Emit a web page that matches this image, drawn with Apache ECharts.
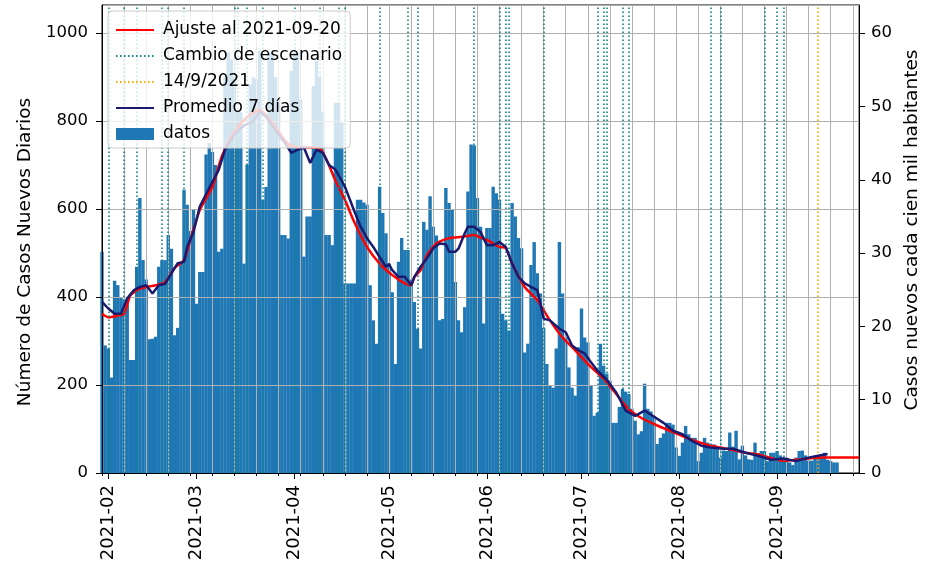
<!DOCTYPE html>
<html><head><meta charset="utf-8">
<script src="https://cdn.jsdelivr.net/npm/echarts@6/dist/echarts.min.js"></script>
<style>html,body{margin:0;padding:0;background:#fff;overflow:hidden}#c{width:930px;height:564px}</style>
</head><body><div id="c"></div><script>
// ---- data ----
const startDate = '2021-01-30';   // first category (left edge of the plot)
const nDays = 241;                // categories up to 2021-09-27
const casosDiarios = [
 503,290,283,217,437,427,400,395,390,257,
 257,469,625,484,440,304,305,310,469,484,
 484,541,510,313,330,476,644,610,550,600,
 385,457,457,724,750,730,700,503,510,900,
 956,940,900,820,820,476,701,883,900,895,
 960,621,650,956,956,900,850,541,541,533,
 914,956,956,850,492,583,583,880,937,900,
 820,541,541,518,842,842,797,431,431,431,
 431,621,621,615,610,427,347,294,651,591,
 545,476,411,248,480,534,507,507,440,389,
 328,283,571,553,629,560,540,347,350,648,
 614,600,434,347,320,377,640,747,745,625,
 560,340,557,557,651,636,621,362,347,324,
 614,583,534,511,274,294,473,525,454,408,
 330,248,200,194,283,525,408,308,240,194,
 176,286,374,308,297,200,130,137,294,244,
 226,210,114,114,150,191,185,180,146,119,
 88,95,203,146,140,130,66,80,90,114,
 114,110,58,39,69,107,88,80,80,27,
 46,80,69,60,65,60,35,51,50,92,
 60,96,31,62,40,31,30,69,45,50,
 50,27,46,46,50,40,35,35,24,18,
 35,50,51,40,28,28,39,39,37,46,
 30,27,24,24
];
// 7-day average (day offset from startDate, value)
const promedioDias = [0,2,4,6,8,10,12,14,16,18,20,22,24,26,27,29,31,34,37,39,42,45,48,50,52,55,58,60,62,64,66,68,70,72,74,77,80,82,84,86,88,90,91,92,94,96,98,99,101,103,105,107,109,110,112,113,115,116,118,120,122,124,126,128,130,132,134,136,138,140,142,145,147,149,151,153,155,157,160,163,166,169,172,175,178,181,184,187,190,193,197,200,204,208,212,216,220,224,227,230];
const promedioVals = [389,374,362,362,397,415,423,427,408,427,430,454,477,480,514,548,606,648,689,735,770,790,800,822,810,780,750,728,735,740,705,735,728,700,690,651,595,560,534,514,491,469,475,461,446,446,427,446,469,488,511,522,520,503,503,510,545,560,560,548,518,518,525,514,476,446,431,423,416,351,347,328,320,290,279,272,252,233,212,183,142,130,142,128,114,96,88,73,62,58,55,55,46,39,30,33,27,35,39,43];
// fitted curve
const ajusteDias = [0,2,5,7,9,12,17,20,23,26,28,31,35,38,41,44,47,50,53,56,59,62,66,69,71,74,77,80,84,88,92,96,98,99,101,103,106,110,114,118,120,122,126,128,130,134,138,142,146,150,154,159,163,167,171,176,180,184,188,192,196,200,204,208,212,216,220,224,228,234,240];
const ajusteVals = [362,354,358,362,404,419,427,434,466,484,530,598,651,720,765,795,815,825,805,775,748,740,740,738,715,665,621,570,514,476,450,431,427,445,461,495,522,534,537,541,535,530,514,511,476,423,393,347,308,279,248,214,180,145,125,108,96,84,73,64,58,52,46,42,34,28,30,33,35,35,35];
const cambiosEscenario = ['2021-02-01','2021-02-06','2021-02-10','2021-02-18','2021-02-20','2021-02-25','2021-03-13','2021-03-14','2021-03-17','2021-03-22','2021-04-01','2021-04-09','2021-04-15','2021-04-17','2021-04-28','2021-05-07','2021-05-10','2021-05-28','2021-06-05','2021-06-07','2021-06-08','2021-06-19','2021-07-06','2021-07-08','2021-07-09','2021-07-14','2021-07-16','2021-08-11','2021-08-14','2021-08-28','2021-09-01','2021-09-03'];
const fechaReferencia = ['2021-09-14'];
const leftMax = 1064, leftInterval = 200;
const per100k = 0.06;             // right axis = left axis * factor
const rightInterval = 10;

// ---- build ----
const dates = [];
{ const d0 = new Date(startDate + 'T00:00:00Z');
  for (let i = 0; i < nDays; i++) { const d = new Date(d0.getTime() + i * 86400000); dates.push(d.toISOString().slice(0, 10)); } }
const FONT = 'DejaVu Sans';
const TEAL = '#0b8585', ORANGE = '#ffa500';
const DOT = [1.5, 2.5];
const isMonth = (i, v) => v.slice(8) === '01';
const isWeek = (i) => i % 7 === 0;

const chart = echarts.init(document.getElementById('c'), null, {renderer: 'canvas'});
chart.setOption({
  animation: false,
  textStyle: {fontFamily: FONT},
  grid: {left: 102, right: 63, top: 5, bottom: 91, show: true, borderColor: '#000', borderWidth: 1, backgroundColor: 'transparent'},
  legend: {
    z: 20, zlevel: 0,
    orient: 'vertical', left: 108, top: 11, padding: [9, 8, 4, 7], itemGap: 6,
    itemWidth: 38, itemHeight: 12,
    backgroundColor: 'rgba(255,255,255,0.8)', borderColor: '#cccccc', borderWidth: 1, borderRadius: 4,
    itemStyle: {opacity: 0},
    textStyle: {fontSize: 17, color: '#000', fontFamily: FONT, lineHeight: 20, padding: [0, 0, 0, 4]},
    data: [
      {name: 'Ajuste al 2021-09-20'},
      {name: 'Cambio de escenario'},
      {name: '14/9/2021'},
      {name: 'Promedio 7 días'},
      {name: 'datos', icon: 'rect', itemStyle: {opacity: 1}}
    ]
  },
  xAxis: [
    {type: 'category', data: dates, boundaryGap: false, position: 'bottom', z: 2,
     axisLine: {show: true, lineStyle: {color: '#000', width: 1}},
     axisTick: {show: true, interval: isMonth, length: 6, lineStyle: {color: '#000'}},
     axisLabel: {show: true, interval: isMonth, rotate: 90, margin: 12, fontSize: 18, color: '#000', fontFamily: FONT,
                 formatter: v => v.slice(0, 7)},
     splitLine: {show: false}},
    {type: 'category', data: dates, boundaryGap: false, position: 'bottom', z: 2,
     axisLine: {show: false},
     axisTick: {show: true, interval: isWeek, length: 3, lineStyle: {color: '#000'}},
     axisLabel: {show: false},
     splitLine: {show: true, interval: isWeek, lineStyle: {color: '#b0b0b0', width: 1}}}
  ],
  yAxis: [
    {type: 'value', min: 0, max: leftMax, interval: leftInterval, position: 'left', z: 2,
     name: 'Número de Casos Nuevos Diarios', nameLocation: 'middle', nameGap: 55,
     nameTextStyle: {fontSize: 18.5, color: '#000', fontFamily: FONT, padding: [0, 26, 0, 0]},
     axisLine: {show: true, lineStyle: {color: '#000'}},
     axisTick: {show: true, length: 6, lineStyle: {color: '#000'}},
     axisLabel: {fontSize: 16.5, color: '#000', margin: 14, showMaxLabel: false, fontFamily: FONT,
                 formatter: v => String(v)},
     splitLine: {show: true, lineStyle: {color: '#b0b0b0', width: 1}}},
    {type: 'value', min: 0, max: leftMax * per100k, interval: rightInterval, position: 'right', z: 2,
     name: 'Casos nuevos cada cien mil habitantes', nameLocation: 'middle', nameGap: 41,
     nameTextStyle: {fontSize: 18.5, color: '#000', fontFamily: FONT, padding: [0, 0, 0, 18]},
     axisLine: {show: true, lineStyle: {color: '#000'}},
     axisTick: {show: true, length: 6, lineStyle: {color: '#000'}},
     axisLabel: {fontSize: 16.5, color: '#000', margin: 12, showMaxLabel: false, fontFamily: FONT,
                 formatter: v => String(v)},
     splitLine: {show: false}}
  ],
  series: [
    {name: 'Ajuste al 2021-09-20', type: 'line', xAxisIndex: 0, yAxisIndex: 0, z: 3,
     symbol: 'none', smooth: 0.2,
     data: ajusteDias.map((k, i) => [dates[k], ajusteVals[i]]),
     lineStyle: {color: '#ff0000', width: 2.5}, itemStyle: {color: '#ff0000'}},
    {name: 'Cambio de escenario', type: 'line', xAxisIndex: 0, yAxisIndex: 0, z: 4,
     symbol: 'none', data: [],
     lineStyle: {color: TEAL, width: 1.6, type: DOT}, itemStyle: {color: TEAL},
     markLine: {silent: true, symbol: ['none', 'none'], label: {show: false}, animation: false,
       lineStyle: {color: TEAL, width: 1.6, type: DOT},
       data: cambiosEscenario.map(d => ({xAxis: d}))}},
    {name: '14/9/2021', type: 'line', xAxisIndex: 0, yAxisIndex: 0, z: 4,
     symbol: 'none', data: [],
     lineStyle: {color: ORANGE, width: 1.6, type: DOT}, itemStyle: {color: ORANGE},
     markLine: {silent: true, symbol: ['none', 'none'], label: {show: false}, animation: false,
       lineStyle: {color: ORANGE, width: 1.6, type: DOT},
       data: fechaReferencia.map(d => ({xAxis: d}))}},
    {name: 'Promedio 7 días', type: 'line', xAxisIndex: 0, yAxisIndex: 0, z: 5,
     symbol: 'none',
     data: promedioDias.map((k, i) => [dates[k], promedioVals[i]]),
     lineStyle: {color: '#1a1a6e', width: 2.5}, itemStyle: {color: '#1a1a6e'}},
    {name: 'datos', type: 'bar', xAxisIndex: 0, yAxisIndex: 0, z: 1,
     barWidth: 3.4,
     data: casosDiarios,
     itemStyle: {color: '#1f77b4'}}
  ]
});
</script></body></html>
